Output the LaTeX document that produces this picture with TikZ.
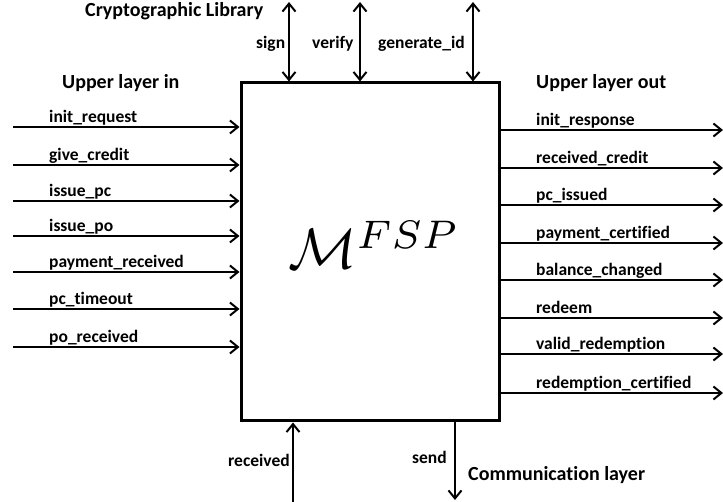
\documentclass[tikz,border=0pt]{standalone}
\usepackage{fontspec}
\setmainfont[Ligatures=NoCommon]{Carlito}
\usetikzlibrary{arrows.meta}
\begin{document}
\begin{tikzpicture}[x=1pt,y=-1pt,
  lbl/.style={font=\bfseries\fontsize{17.5}{20}\selectfont,inner sep=0pt},
  ttl/.style={font=\bfseries\fontsize{20}{22}\selectfont,inner sep=0pt},
  sig/.style={line width=2pt,-{Straight Barb[length=8pt,width=13pt,line width=2pt]}},
  bisig/.style={line width=2pt,{Straight Barb[length=8pt,width=13pt,line width=2pt]}-{Straight Barb[length=8pt,width=13pt,line width=2pt]}},
  machine/.style={draw,line width=3pt,minimum width=258pt,minimum height=338pt,inner sep=0pt}]
\useasboundingbox (0,0) rectangle (723,502);
\node[machine] (fsp) at (370,252) {};
\node[inner sep=0pt,anchor=base,scale=5.7] (mlabel) at (374,269) {$\mathcal{M}^{FSP}$};
% titles
\node[ttl,anchor=base west] (crypto) at (85,17) {Cryptographic Library};
\node[ttl,anchor=base west] (uin) at (62,89) {Upper layer in};
\node[ttl,anchor=base west] (uout) at (536,89) {Upper layer out};
\node[ttl,anchor=base west] (comm) at (468,480) {Communication layer};
% inputs
\foreach \y/\t [count=\i] in {127/init\_request,165/give\_credit,201/issue\_pc,236/issue\_po,272/payment\_received,309/pc\_timeout,347/po\_received}{
  \coordinate (in\i) at (13,\y);
  \draw[sig] (in\i) -- (in\i -| fsp.west);
  \node[lbl,anchor=base west] (inl\i) at (49,\y-4) {\t};
}
% outputs
\foreach \y/\t [count=\i] in {130/init\_response,168/received\_credit,205/pc\_issued,243/payment\_certified,280/balance\_changed,318/redeem,354/valid\_redemption,393/redemption\_certified}{
  \coordinate (out\i) at (723,\y);
  \draw[sig] (out\i -| fsp.east) -- (out\i);
  \node[lbl,anchor=base west] (outl\i) at (536,\y-4) {\t};
}
% crypto library
\foreach \x/\t/\lx [count=\i] in {289/sign/256,360/verify/312,473/generate\_id/378}{
  \coordinate (top\i) at (\x,2);
  \draw[bisig] (top\i) -- (top\i |- fsp.north);
  \node[lbl,anchor=base west] (topl\i) at (\lx,49) {\t};
}
% communication
\coordinate (recv) at (293,502);
\draw[sig] (recv) -- (recv |- fsp.south);
\node[lbl,anchor=base west] (recvl) at (228,467) {received};
\coordinate (send) at (455,500);
\draw[sig] (send |- fsp.south) -- (send);
\node[lbl,anchor=base west] (sendl) at (412,463) {send};
\end{tikzpicture}
\end{document}
